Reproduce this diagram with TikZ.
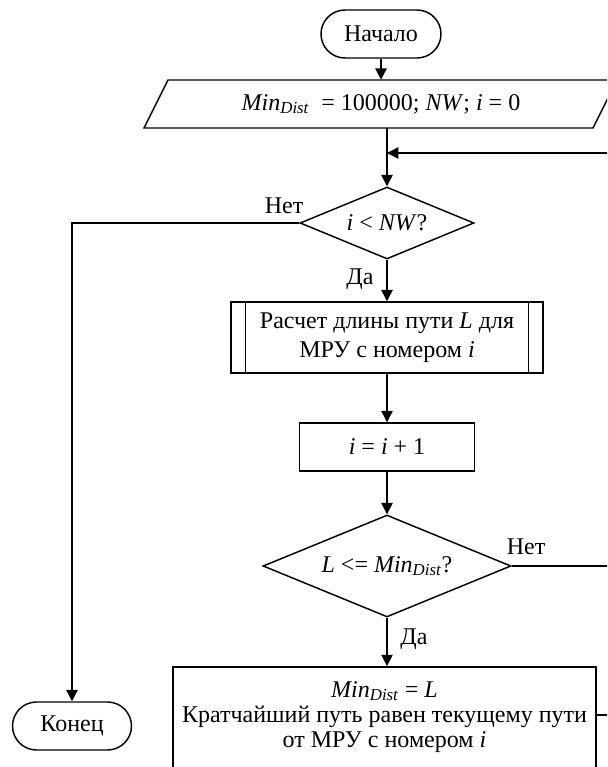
\documentclass[tikz,border=0pt]{standalone}
\usepackage{fontspec}
\setmainfont{Liberation Serif}
\usetikzlibrary{shapes.geometric,arrows.meta,calc}
\newcommand{\mind}{\textit{Min}\textsubscript{\textit{Dist}}}
\begin{document}
\begin{tikzpicture}[x=0.75pt,y=-0.75pt,
  every node/.style={font=\fontsize{18}{21}\selectfont, inner sep=0pt},
  line/.style={line width=1.1pt},
  arr/.style={line,-{Triangle[length=8.5pt,width=8.5pt]}},
  term/.style={draw,line width=1.1pt,rounded corners=18pt,minimum width=90pt,minimum height=36pt},
  proc/.style={draw,line width=1.1pt},
  dia/.style={draw,line width=1.1pt,diamond,shape aspect=2.4}
]
\useasboundingbox (0,0) rectangle (607,767);
\clip (0,0) rectangle (607,767);
\fill[white] (0,0) rectangle (607,767);

% nodes
\node[term] (start) at (381,34) {Начало};
\draw[line] (144,128) -- (168,80) -- (617,80) -- (593,128) -- cycle;
\node[minimum width=300pt,minimum height=36pt] (init) at (381,104)
  {\mind\ \ = 100000; \textit{NW}; \textit{i} = 0};
\node[dia,minimum width=130.5pt,minimum height=54pt] (d1) at (387,223) {\textit{i} < \textit{NW}?};
\node[proc,minimum width=234pt,minimum height=53.25pt,align=center,
  font=\fontsize{18}{21.5}\selectfont] (pr) at (387,337.5)
  {Расчет длины пути \textit{L} для\\МРУ с номером \textit{i}};
\draw[line] ([xshift=11.25pt]pr.north west) -- ([xshift=11.25pt]pr.south west);
\draw[line] ([xshift=-11.25pt]pr.north east) -- ([xshift=-11.25pt]pr.south east);
\node[proc,minimum width=131.25pt,minimum height=36pt] (inc) at (387,447) {\textit{i} = \textit{i} + 1};
\node[dia,minimum width=186pt,minimum height=76.5pt] (d2) at (387,566) {\textit{L} <= \mind?};
\node[proc,minimum width=317.25pt,minimum height=85pt] (last) at (384.5,723.5) {};
\node[align=center,font=\fontsize{18}{19}\selectfont] (lt) at (384.5,717)
  {\mind\ = \textit{L}\\Кратчайший путь равен текущему пути\\от МРУ с номером \textit{i}};
\node[term,minimum width=89.25pt] (end) at (72,726) {Конец};

% labels
\node (no1) at (284,206) {Нет};
\node (yes1) at (360,279) {Да};
\node (no2) at (526,547) {Нет};
\node (yes2) at (414,639) {Да};

% coordinates for loop (outside the visible frame)
\coordinate (r1) at (630,566);
\coordinate (r2) at (630,715);
\coordinate (rt) at (630,153);
\coordinate (le) at (596,715);

% connectors
\draw[arr] (start.south) -- (start.south |- init.north);
\draw[arr] (init.south -| d1.north) -- (d1.north);
\draw[arr] (d1.south) -- (pr.north);
\draw[arr] (pr.south) -- (inc.north);
\draw[arr] (inc.south) -- (d2.north);
\draw[arr] (d2.south) -- (d2.south |- last.north);
\draw[arr] (d1.west) -| (end.north);
\draw[line] (d2.east) -- (r1);
\draw[line] (le) -- (r2);
\draw[arr] (r2) -- (rt) -- (rt -| d1.north);
\end{tikzpicture}
\end{document}
